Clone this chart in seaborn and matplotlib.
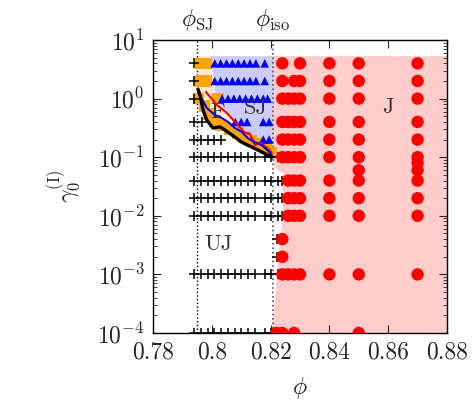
import numpy as np
import pandas as pd
import matplotlib
matplotlib.use('Agg')
import matplotlib.pyplot as plt
import matplotlib.ticker as mticker
import seaborn as sns

# Phase boundaries
phi_sj = 0.795
phi_iso = 0.8208
g_top = 5.3

# J (red circles): rows of gamma with phi values
j_rows = {
    4: [0.824, 0.830, 0.84, 0.85, 0.87],
    2: [0.824, 0.828, 0.830, 0.84, 0.85, 0.87],
    1: [0.824, 0.826, 0.828, 0.830, 0.84, 0.85, 0.87],
    0.4: [0.824, 0.826, 0.828, 0.830, 0.84, 0.85, 0.87],
    0.2: [0.824, 0.826, 0.828, 0.830, 0.84, 0.85, 0.87],
    0.1: [0.824, 0.826, 0.828, 0.830, 0.84, 0.85, 0.87],
    0.08: [0.87],
    0.06: [0.85, 0.87],
    0.04: [0.826, 0.828, 0.830, 0.84, 0.85, 0.87],
    0.02: [0.826, 0.828, 0.830, 0.84, 0.85, 0.87],
    0.01: [0.826, 0.828, 0.830, 0.84, 0.85, 0.87],
    0.004: [0.824],
    0.002: [0.824],
    0.001: [0.824, 0.826, 0.828, 0.830, 0.84, 0.85, 0.87],
    0.0001: [0.822, 0.824, 0.828, 0.85],
}

# SJ (blue triangles)
sj_rows = {
    4: [0.801, 0.803, 0.805, 0.807, 0.809, 0.811, 0.813, 0.815, 0.818],
    2: [0.801, 0.803, 0.805, 0.807, 0.809, 0.811, 0.813, 0.815, 0.818],
    1: [0.8035, 0.8055, 0.8075, 0.8095, 0.8115, 0.8135, 0.8155, 0.8175, 0.819],
    0.4: [0.808, 0.810, 0.812, 0.8175, 0.8195],
    0.2: [0.8175, 0.8195],
}

# UJ (black pluses)
uj_main = [0.794, 0.7963, 0.7986, 0.8009, 0.8032, 0.8055, 0.8078, 0.8101, 0.8124, 0.8147]
uj_extra = [0.818, 0.8202, 0.8224]
uj_rows = {
    4: [0.794],
    2: [0.794],
    1: [0.794],
    0.4: [0.794, 0.7965],
    0.2: [0.794, 0.7963, 0.7986, 0.8009, 0.8032],
    0.1: uj_main + uj_extra,
    0.04: uj_main + uj_extra + [0.824],
    0.02: uj_main + uj_extra + [0.824],
    0.01: uj_main + uj_extra + [0.824],
    0.004: [0.8222],
    0.002: [0.8222],
    0.001: uj_main + uj_extra,
    0.0001: uj_main + uj_extra,
}

# F (orange squares)
f_phi = [0.7962, 0.7980, 0.7962, 0.7980, 0.7955, 0.8021, 0.7975, 0.7990, 0.8010,
         0.8030, 0.8060, 0.8090, 0.8110, 0.8135, 0.8160, 0.8185, 0.8203]
f_g = [4, 4, 2, 2, 1, 1, 0.75, 0.55, 0.42, 0.35, 0.30, 0.26, 0.22, 0.19, 0.17, 0.14, 0.12]

# boundary curves
black_phi = [0.7953, 0.7960, 0.7970, 0.7983, 0.8004, 0.8028, 0.8045, 0.8079, 0.8102, 0.8136, 0.8170, 0.8204]
black_g = [1.45, 1.15, 0.64, 0.43, 0.315, 0.33, 0.29, 0.22, 0.18, 0.149, 0.123, 0.10]
blue_phi = [0.7953, 0.7983, 0.8011, 0.8028, 0.8055, 0.8079, 0.8102, 0.8123, 0.8147, 0.8170, 0.8191, 0.8204]
blue_g = [1.3, 0.69, 0.525, 0.485, 0.40, 0.315, 0.27, 0.21, 0.18, 0.16, 0.13, 0.11]
red_phi = [0.7980, 0.8017, 0.8051, 0.8079, 0.8113, 0.8130, 0.8147, 0.8164, 0.8191, 0.8204]
red_g = [1.30, 0.78, 0.57, 0.40, 0.26, 0.25, 0.16, 0.18, 0.14, 0.12]

# shaded regions
j_reg_phi = [phi_iso, 0.88, 0.88, 0.8205, 0.8222, 0.8232, 0.8242, 0.8242, 0.8215, 0.8205]
j_reg_g = [g_top, g_top, 1e-4, 1e-4, 1e-3, 0.004, 0.0096, 0.053, 0.065, 0.1]
sj_reg_phi = [0.7995, phi_iso, phi_iso, 0.8195, 0.814, 0.808, 0.8045, 0.8015]
sj_reg_g = [g_top, g_top, 0.13, 0.15, 0.22, 0.35, 0.6, 1.0]
f_reg_phi = [phi_sj, 0.7995, 0.8015, 0.8045, 0.808, 0.814, 0.8195, phi_iso, 0.8204, 0.8136, 0.8079, 0.8004, 0.7970, phi_sj]
f_reg_g = [g_top, g_top, 1.0, 0.6, 0.35, 0.22, 0.15, 0.13, 0.10, 0.149, 0.22, 0.315, 0.64, 1.45]


def rows_to_df(rows):
    pts = [(p, g) for g, ps in rows.items() for p in ps]
    return pd.DataFrame(pts, columns=['phi', 'gamma'])


sns.set_theme(style='ticks')
plt.rcParams['font.family'] = 'serif'
plt.rcParams['font.serif'] = ['cmr10']
plt.rcParams['mathtext.fontset'] = 'cm'
plt.rcParams['axes.formatter.use_mathtext'] = True
plt.rcParams['axes.unicode_minus'] = True

fig = plt.figure(figsize=(4.74, 4.03), dpi=100)
ax = fig.add_axes([0.3228, 0.1737, 0.943 - 0.3228, 0.9007 - 0.1737])

ax.fill(j_reg_phi, j_reg_g, color='#FFCCCC', lw=0, zorder=0)
ax.fill(sj_reg_phi, sj_reg_g, color='#CCCCFF', lw=0, zorder=0)
ax.fill(f_reg_phi, f_reg_g, color='#FFEACC', lw=0, zorder=0)

ax.axvline(phi_sj, color='black', ls=':', lw=1, zorder=1)
ax.axvline(phi_iso, color='#555555', ls=':', lw=1.2, zorder=1)

uj = rows_to_df(uj_rows)
sj = rows_to_df(sj_rows)
jj = rows_to_df(j_rows)
ff = pd.DataFrame({'phi': f_phi, 'gamma': f_g})

sns.scatterplot(data=ff, x='phi', y='gamma', marker='s', s=70, color='#FFA500',
                edgecolor='none', ax=ax, zorder=2)
sns.scatterplot(data=uj, x='phi', y='gamma', marker='+', s=55, color='black',
                linewidth=1.1, ax=ax, zorder=3)
sns.scatterplot(data=sj, x='phi', y='gamma', marker='^', s=38, color='blue',
                edgecolor='none', ax=ax, zorder=3)
sns.scatterplot(data=jj, x='phi', y='gamma', marker='o', s=80, color='red',
                edgecolor='none', ax=ax, zorder=3)

sns.lineplot(x=red_phi, y=red_g, color='red', lw=1.5, sort=False, estimator=None, ax=ax, zorder=4)
sns.lineplot(x=blue_phi, y=blue_g, color='blue', lw=1.5, sort=False, estimator=None, ax=ax, zorder=4)
sns.lineplot(x=black_phi, y=black_g, color='black', lw=2.4, sort=False, estimator=None, ax=ax, zorder=5)

ax.set_yscale('log')
ax.set_xlim(0.78, 0.88)
ax.set_ylim(1e-4, 1e1)
ax.xaxis.set_major_locator(mticker.MultipleLocator(0.02))
ax.xaxis.set_major_formatter(mticker.FuncFormatter(lambda v, pos: f'{v:g}'))
ax.yaxis.set_major_locator(mticker.LogLocator(base=10, numticks=10))
ax.yaxis.set_minor_locator(mticker.LogLocator(base=10, subs=np.arange(2, 10), numticks=20))
ax.yaxis.set_minor_formatter(mticker.NullFormatter())
ax.tick_params(which='both', direction='in', top=True, right=True, labelsize=17, pad=6)
ax.tick_params(which='major', length=6, width=0.8)
ax.tick_params(which='minor', length=3, width=0.6)
for s in ax.spines.values():
    s.set_linewidth(1.0)
    s.set_color('black')

ax.set_xlabel(r'$\phi$', fontsize=17, labelpad=8)
ax.set_ylabel(r'$\gamma_0^{(\mathrm{I})}$', fontsize=17, labelpad=10)

trans = ax.get_xaxis_transform()
ax.text(phi_sj, 1.025, r'$\phi_{\mathrm{SJ}}$', transform=trans, ha='center', va='bottom', fontsize=17)
ax.text(phi_iso, 1.025, r'$\phi_{\mathrm{iso}}$', transform=trans, ha='center', va='bottom', fontsize=17)

ax.text(0.8018, 0.59, 'F', fontsize=16, ha='center', va='center', color='#333333', zorder=3.5)
ax.text(0.8150, 0.69, 'SJ', fontsize=16, ha='center', va='center', color='#333333', zorder=3.5)
ax.text(0.8021, 0.0033, 'UJ', fontsize=16, ha='center', va='center', color='#333333', zorder=3.5)
ax.text(0.8600, 0.72, 'J', fontsize=16, ha='center', va='center', color='#333333', zorder=3.5)

fig.savefig('out.png', dpi=100)
